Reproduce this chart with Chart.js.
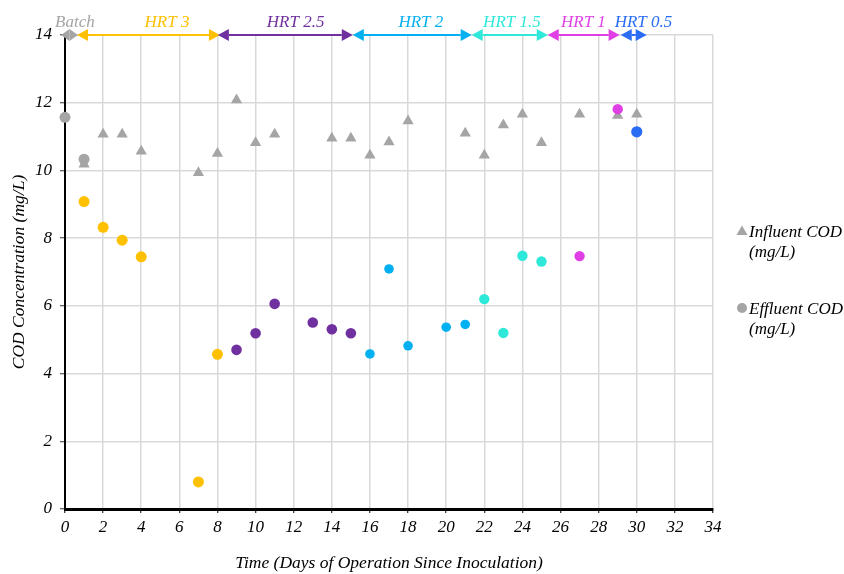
<!DOCTYPE html>
<html>
<head>
<meta charset="utf-8">
<script src="https://cdn.jsdelivr.net/npm/chart.js@4.4.1/dist/chart.umd.min.js"></script>
<style>
  html, body { margin: 0; padding: 0; background: #fff; }
  canvas { display: block; }
</style>
</head>
<body>
<canvas id="chart" width="844" height="574"></canvas>
<script>
// ---- Data (days since inoculation, COD in mg/L) ----
const influentDays = [1, 2, 3, 4, 7, 8, 9, 10, 11, 14, 15, 16, 17, 18, 21, 22, 23, 24, 25, 27, 29, 30];
const influentCOD  = [10.18, 11.07, 11.07, 10.57, 9.93, 10.5, 12.08, 10.82, 11.07, 10.95, 10.95, 10.45, 10.84, 11.46, 11.1, 10.45, 11.34, 11.66, 10.82, 11.66, 11.62, 11.66];

const effluentDays  = [0, 1, 1, 2, 3, 4, 7, 8, 9, 10, 11, 13, 14, 15, 16, 17, 18, 20, 21, 22, 23, 24, 25, 27, 29, 30];
const effluentCOD   = [11.57, 10.33, 9.08, 8.32, 7.94, 7.45, 0.8, 4.57, 4.7, 5.19, 6.06, 5.51, 5.31, 5.19, 4.58, 7.09, 4.82, 5.37, 5.45, 6.2, 5.2, 7.48, 7.31, 7.47, 11.81, 11.14];
// operating phase of each effluent sample (index into phaseNames)
const effluentPhase = [0, 0, 1, 1, 1, 1, 1, 1, 2, 2, 2, 2, 2, 2, 3, 3, 3, 3, 3, 4, 4, 4, 4, 5, 5, 6];

// hydraulic retention time phases, drawn as arrows along the top of the plot
const phaseNames = ['Batch', 'HRT 3', 'HRT 2.5', 'HRT 2', 'HRT 1.5', 'HRT 1', 'HRT 0.5'];
const phaseStart = [-0.21, 0.63, 8.02, 15.1, 21.34, 25.33, 29.16];
const phaseEnd   = [0.68, 8.13, 15.1, 21.34, 25.33, 29.1, 30.52];
const phaseLabelDay = [0.52, 5.35, 12.1, 18.67, 23.45, 27.2, 30.35];

const xTickStep = 2, xMax = 34;
const yTickStep = 2, yMax = 14;

const influentLabel = ['Influent COD', '(mg/L)'];
const effluentLabel = ['Effluent COD', '(mg/L)'];
const xTitle = 'Time (Days of Operation Since Inoculation)';
const yTitle = 'COD Concentration (mg/L)';

// ---- Styles ----
const phaseColors = ['#A5A5A5', '#FFC000', '#7030A0', '#00B0F0', '#2EE8D9', '#E03FE6', '#2A6DF4'];
const phaseRadius = [5.5, 5.5, 5.3, 4.8, 5.2, 5.2, 5.6];
const grey = '#A5A5A5';
const serif = '"Liberation Serif", "Times New Roman", serif';
const tickFont = { family: serif, size: 17, style: 'italic' };
const titleFont = { family: serif, size: 17.5, style: 'italic' };

const influentPoints = influentDays.map((d, i) => ({ x: d, y: influentCOD[i] }));

const effluentSets = phaseNames.map((name, p) => ({
  label: 'Effluent COD (mg/L) ' + name,
  data: effluentDays
    .map((d, i) => ({ x: d, y: effluentCOD[i], p: effluentPhase[i] }))
    .filter(pt => pt.p === p),
  pointStyle: 'circle',
  pointRadius: phaseRadius[p],
  pointBackgroundColor: phaseColors[p],
  pointBorderWidth: 0,
  showLine: false,
  clip: false,
  order: 0
}));

// arrows for the HRT phases plus the side legend
const overlay = {
  id: 'overlay',
  afterDraw(chart) {
    const { ctx, chartArea, scales } = chart;
    const xs = scales.x, ys = scales.y;
    const yLine = ys.getPixelForValue(yMax);
    const headLen = 11, headHalf = 6;

    ctx.save();
    phaseNames.forEach((name, i) => {
      const x0 = xs.getPixelForValue(phaseStart[i]);
      const x1 = xs.getPixelForValue(phaseEnd[i]);
      const len = Math.min(headLen, (x1 - x0) / 2);
      ctx.strokeStyle = phaseColors[i];
      ctx.fillStyle = phaseColors[i];
      ctx.lineWidth = 2;
      if (x1 - x0 > 2 * len) {
        ctx.beginPath();
        ctx.moveTo(x0 + len, yLine);
        ctx.lineTo(x1 - len, yLine);
        ctx.stroke();
      }
      // left head
      ctx.beginPath();
      ctx.moveTo(x0, yLine);
      ctx.lineTo(x0 + len, yLine - headHalf);
      ctx.lineTo(x0 + len, yLine + headHalf);
      ctx.closePath();
      ctx.fill();
      // right head
      ctx.beginPath();
      ctx.moveTo(x1, yLine);
      ctx.lineTo(x1 - len, yLine - headHalf);
      ctx.lineTo(x1 - len, yLine + headHalf);
      ctx.closePath();
      ctx.fill();

      ctx.font = 'italic 17px ' + serif;
      ctx.textAlign = 'center';
      ctx.textBaseline = 'alphabetic';
      ctx.fillText(name, xs.getPixelForValue(phaseLabelDay[i]), yLine - 8);
    });

    // legend
    const lx = chartArea.right + 29;
    const tx = chartArea.right + 36;
    ctx.fillStyle = grey;
    const ty = 231;
    ctx.beginPath();
    ctx.moveTo(lx, ty - 5.5);
    ctx.lineTo(lx + 5.5, ty + 4);
    ctx.lineTo(lx - 5.5, ty + 4);
    ctx.closePath();
    ctx.fill();
    const cy = 308;
    ctx.beginPath();
    ctx.arc(lx, cy, 5, 0, Math.PI * 2);
    ctx.fill();

    ctx.fillStyle = '#000';
    ctx.font = 'italic 17px ' + serif;
    ctx.textAlign = 'left';
    ctx.textBaseline = 'alphabetic';
    influentLabel.forEach((t, k) => ctx.fillText(t, tx, 237 + k * 20));
    effluentLabel.forEach((t, k) => ctx.fillText(t, tx, 314 + k * 20));
    ctx.restore();
  }
};

new Chart(document.getElementById('chart'), {
  type: 'scatter',
  data: {
    datasets: [
      {
        label: 'Influent COD (mg/L)',
        data: influentPoints,
        pointStyle: 'triangle',
        pointRadius: 6.5,
        pointBackgroundColor: grey,
        pointBorderWidth: 0,
        showLine: false,
        clip: false,
        order: 1
      },
      ...effluentSets
    ]
  },
  options: {
    responsive: false,
    animation: false,
    devicePixelRatio: 1,
    layout: { padding: { left: 0, top: 35, right: 131, bottom: 0 } },
    plugins: { legend: { display: false }, tooltip: { enabled: false } },
    scales: {
      x: {
        type: 'linear',
        min: 0, max: xMax,
        ticks: { stepSize: xTickStep, font: tickFont, color: '#000', padding: 4, maxRotation: 0 },
        grid: { color: '#D9D9D9', lineWidth: 1.5, tickColor: '#000', tickLength: 4, tickWidth: 1 },
        border: { color: '#000', width: 3 },
        title: { display: true, text: xTitle, font: titleFont, color: '#000', padding: { top: 0, bottom: 0 } },
        afterFit(s) { s.height = 65; }
      },
      y: {
        type: 'linear',
        min: 0, max: yMax,
        ticks: { stepSize: yTickStep, font: tickFont, color: '#000', padding: 8 },
        grid: { color: '#D9D9D9', lineWidth: 1.5, tickColor: '#333', tickLength: 5, tickWidth: 1 },
        border: { color: '#000', width: 2 },
        title: { display: true, text: yTitle, font: titleFont, color: '#000', padding: { top: 9, bottom: 0 } },
        afterFit(s) { s.width = 65; }
      }
    }
  },
  plugins: [overlay]
});
</script>
</body>
</html>
